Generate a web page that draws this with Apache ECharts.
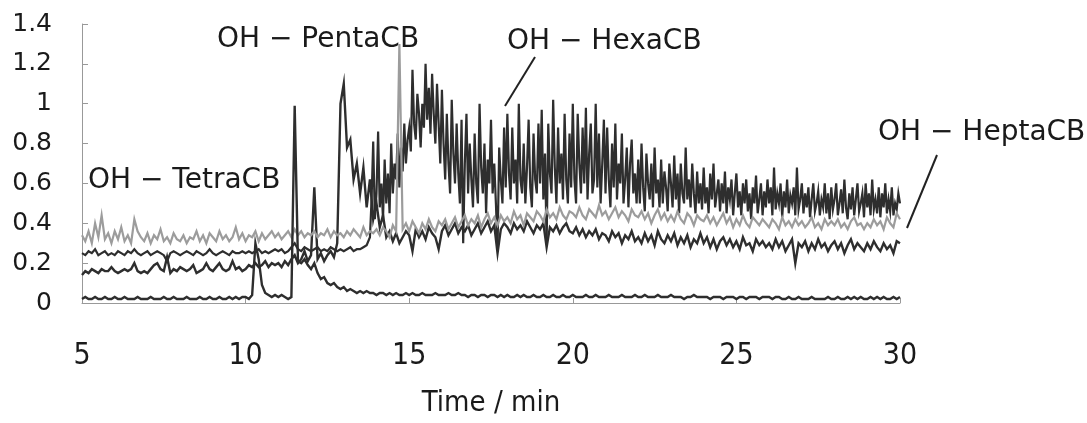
<html>
    <head>
        <meta charset="utf-8">
        <script src="https://cdn.jsdelivr.net/npm/echarts@6/dist/echarts.min.js"></script>
        <style>
            html, body { margin: 0; padding: 0; background: #fff; }
            #chart { width: 1087px; height: 423px; }
        </style>
    </head>
    <body>
        <div id="chart"></div>
        <script>
        // most traces: 5.0 .. 30.0 min, 0.1 min per sample
        var timeStart = 5;
        var timeStep = 0.1;
        // the busy part of the HexaCB trace is read at 0.05 min from 13.5 min
        var hexaLateStart = 13.5;
        var hexaLateStep = 0.05;
        var xTicks = [5, 10, 15, 20, 25, 30];

        var tetraCB = [
            0.02,0.03,0.02,0.02,0.03,0.02,0.02,0.03,0.02,0.02,
            0.03,0.02,0.02,0.03,0.02,0.02,0.02,0.03,0.02,0.02,
            0.02,0.03,0.02,0.02,0.02,0.03,0.02,0.02,0.03,0.02,
            0.02,0.02,0.03,0.02,0.02,0.02,0.03,0.02,0.02,0.03,
            0.02,0.02,0.03,0.02,0.02,0.03,0.02,0.03,0.02,0.03,
            0.03,0.02,0.04,0.3,0.22,0.09,0.05,0.04,0.03,0.04,
            0.03,0.04,0.03,0.02,0.03,0.99,0.21,0.2,0.22,0.19,
            0.17,0.2,0.15,0.12,0.13,0.1,0.09,0.1,0.08,0.07,
            0.08,0.06,0.07,0.06,0.05,0.06,0.05,0.06,0.05,0.05,
            0.04,0.05,0.05,0.04,0.05,0.04,0.05,0.04,0.04,0.05,
            0.04,0.05,0.04,0.04,0.05,0.04,0.04,0.04,0.05,0.04,
            0.04,0.04,0.05,0.04,0.04,0.05,0.04,0.04,0.03,0.04,
            0.04,0.03,0.04,0.04,0.03,0.04,0.04,0.03,0.04,0.03,
            0.04,0.03,0.03,0.04,0.03,0.04,0.03,0.03,0.04,0.03,
            0.03,0.04,0.03,0.03,0.04,0.03,0.03,0.04,0.03,0.03,
            0.04,0.03,0.03,0.03,0.04,0.03,0.03,0.04,0.03,0.03,
            0.03,0.04,0.03,0.03,0.03,0.04,0.03,0.03,0.03,0.04,
            0.03,0.03,0.04,0.03,0.03,0.03,0.04,0.03,0.03,0.03,
            0.04,0.03,0.03,0.03,0.02,0.03,0.03,0.04,0.03,0.03,
            0.03,0.03,0.02,0.03,0.03,0.03,0.02,0.03,0.03,0.03,
            0.02,0.03,0.03,0.02,0.03,0.03,0.03,0.02,0.03,0.03,
            0.03,0.02,0.03,0.03,0.02,0.02,0.03,0.02,0.02,0.03,
            0.02,0.02,0.02,0.03,0.02,0.02,0.02,0.02,0.03,0.02,
            0.02,0.03,0.02,0.02,0.03,0.02,0.03,0.02,0.03,0.02,
            0.02,0.03,0.02,0.03,0.02,0.03,0.02,0.02,0.03,0.02,
            0.03
        ];

        var pentaCB = [
            0.14,0.16,0.15,0.17,0.16,0.15,0.17,0.16,0.16,0.18,
            0.16,0.15,0.16,0.17,0.16,0.17,0.2,0.16,0.15,0.16,
            0.15,0.17,0.19,0.2,0.17,0.16,0.23,0.15,0.17,0.16,
            0.18,0.17,0.16,0.17,0.19,0.15,0.16,0.17,0.2,0.17,
            0.16,0.18,0.2,0.17,0.16,0.17,0.21,0.17,0.18,0.16,
            0.17,0.19,0.18,0.2,0.18,0.19,0.21,0.18,0.2,0.19,
            0.2,0.18,0.21,0.19,0.22,0.24,0.2,0.22,0.26,0.21,
            0.24,0.58,0.22,0.25,0.21,0.24,0.26,0.23,0.3,1.0,
            1.1,0.78,0.82,0.62,0.7,0.55,0.68,0.48,0.62,0.42,
            0.5,0.38,0.44,0.33,0.36,0.31,0.35,0.3,0.33,0.36,
            0.34,0.26,0.37,0.33,0.36,0.32,0.38,0.35,0.33,0.27,
            0.36,0.39,0.34,0.37,0.4,0.35,0.38,0.36,0.39,0.34,
            0.37,0.4,0.35,0.38,0.41,0.36,0.39,0.25,0.37,0.4,
            0.38,0.35,0.4,0.37,0.39,0.36,0.41,0.38,0.35,0.39,
            0.37,0.4,0.28,0.38,0.36,0.39,0.35,0.38,0.4,0.36,
            0.35,0.38,0.34,0.37,0.33,0.36,0.34,0.37,0.32,0.35,
            0.34,0.31,0.36,0.33,0.35,0.3,0.34,0.32,0.36,0.31,
            0.33,0.3,0.35,0.31,0.34,0.29,0.36,0.32,0.3,0.34,
            0.31,0.35,0.29,0.33,0.3,0.34,0.28,0.32,0.3,0.35,
            0.3,0.33,0.28,0.32,0.27,0.31,0.33,0.29,0.32,0.28,
            0.31,0.27,0.33,0.29,0.3,0.26,0.32,0.29,0.31,0.28,
            0.3,0.27,0.32,0.28,0.31,0.26,0.29,0.32,0.2,0.3,
            0.28,0.31,0.26,0.3,0.27,0.32,0.28,0.3,0.26,0.29,
            0.31,0.27,0.3,0.25,0.29,0.32,0.27,0.3,0.28,0.26,
            0.3,0.27,0.31,0.28,0.26,0.3,0.27,0.29,0.25,0.31,
            0.3
        ];

        // 5.0 .. 13.4 min, 0.1 min per sample
        var hexaCBBase = [
            0.25,0.24,0.26,0.25,0.27,0.24,0.25,0.26,0.24,0.25,
            0.24,0.26,0.25,0.24,0.26,0.25,0.27,0.25,0.24,0.25,
            0.26,0.24,0.25,0.26,0.25,0.24,0.21,0.25,0.26,0.25,
            0.24,0.25,0.26,0.25,0.24,0.26,0.25,0.24,0.25,0.27,
            0.25,0.24,0.25,0.26,0.25,0.24,0.26,0.25,0.25,0.26,
            0.25,0.26,0.25,0.26,0.27,0.25,0.26,0.25,0.26,0.27,
            0.26,0.27,0.25,0.26,0.28,0.3,0.27,0.26,0.28,0.27,
            0.26,0.27,0.28,0.26,0.27,0.26,0.28,0.27,0.26,0.27,
            0.26,0.27,0.28,0.26,0.27
        ];

        // 13.5 .. 30.0 min, 0.05 min per sample
        var hexaCBLate = [
            0.27,0.26,0.28,0.27,0.29,0.28,0.33,0.52,0.81,0.42,
            0.55,0.86,0.48,0.6,0.42,0.72,0.5,0.65,0.45,0.8,
            0.55,0.7,0.62,0.85,0.58,0.78,0.66,0.9,0.7,0.82,
            0.88,0.76,1.17,0.9,0.82,1.05,0.95,0.78,1.0,0.88,
            1.2,0.92,1.08,0.85,1.15,0.95,0.8,1.1,0.9,0.7,
            1.07,0.8,0.62,0.95,0.7,0.55,1.02,0.75,0.6,0.9,
            0.65,0.5,0.92,0.3,0.7,0.95,0.55,0.8,0.62,0.48,
            0.85,0.6,0.5,1.0,0.68,0.55,0.8,0.45,0.72,0.6,
            0.92,0.55,0.7,0.5,0.27,0.78,0.62,0.5,0.88,0.58,
            0.95,0.65,0.52,0.88,0.6,0.72,0.5,1.0,0.62,0.55,
            0.8,0.5,0.68,0.92,0.58,0.48,0.85,0.62,0.55,0.9,
            0.6,0.97,0.52,0.75,0.3,0.9,0.65,0.55,1.02,0.68,
            0.5,0.88,0.6,0.75,0.52,0.95,0.62,0.5,0.85,0.58,
            1.0,0.62,0.5,0.95,0.7,0.55,0.88,0.6,0.98,0.52,
            0.75,0.9,0.55,0.62,1.0,0.58,0.85,0.5,0.7,0.92,
            0.55,0.88,0.62,0.48,0.8,0.58,0.9,0.52,0.7,0.6,
            0.85,0.5,0.62,0.78,0.48,0.7,0.82,0.55,0.65,0.5,
            0.72,0.5,0.8,0.58,0.46,0.75,0.6,0.52,0.7,0.48,
            0.78,0.55,0.62,0.48,0.72,0.5,0.66,0.58,0.46,0.7,
            0.6,0.48,0.74,0.52,0.65,0.45,0.7,0.55,0.5,0.78,
            0.52,0.62,0.48,0.7,0.55,0.45,0.66,0.5,0.6,0.47,
            0.68,0.5,0.58,0.45,0.65,0.52,0.7,0.48,0.55,0.62,
            0.46,0.6,0.5,0.66,0.45,0.58,0.52,0.62,0.44,0.55,
            0.65,0.48,0.56,0.44,0.6,0.5,0.62,0.46,0.55,0.42,
            0.58,0.5,0.64,0.45,0.52,0.6,0.44,0.56,0.48,0.62,
            0.5,0.58,0.44,0.68,0.47,0.55,0.5,0.6,0.43,0.56,
            0.48,0.62,0.45,0.54,0.5,0.58,0.44,0.68,0.47,0.52,
            0.6,0.45,0.55,0.48,0.58,0.43,0.52,0.6,0.46,0.5,
            0.56,0.44,0.52,0.48,0.6,0.45,0.55,0.42,0.58,0.47,
            0.52,0.6,0.44,0.5,0.57,0.45,0.62,0.48,0.42,0.55,
            0.47,0.58,0.44,0.52,0.6,0.46,0.5,0.55,0.43,0.6,
            0.48,0.55,0.44,0.62,0.47,0.52,0.45,0.58,0.43,0.55,
            0.48,0.6,0.45,0.52,0.46,0.58,0.44,0.5,0.47,0.55,
            0.5
        ];

        var heptaCB = [
            0.34,0.31,0.36,0.3,0.4,0.33,0.44,0.32,0.35,0.3,
            0.36,0.32,0.38,0.31,0.34,0.3,0.42,0.36,0.33,0.31,
            0.35,0.3,0.34,0.32,0.37,0.31,0.33,0.3,0.35,0.32,
            0.31,0.34,0.3,0.33,0.32,0.36,0.31,0.34,0.3,0.35,
            0.33,0.31,0.36,0.32,0.34,0.31,0.33,0.38,0.32,0.35,
            0.31,0.34,0.33,0.36,0.31,0.35,0.32,0.34,0.36,0.33,
            0.35,0.32,0.34,0.36,0.33,0.37,0.34,0.36,0.33,0.35,
            0.34,0.36,0.33,0.35,0.34,0.37,0.33,0.36,0.34,0.35,
            0.33,0.36,0.34,0.37,0.35,0.33,0.38,0.34,0.36,0.35,
            0.37,0.34,0.38,0.36,0.33,0.39,0.36,1.3,0.37,0.4,
            0.36,0.41,0.38,0.35,0.4,0.37,0.42,0.38,0.36,0.41,
            0.39,0.42,0.37,0.4,0.43,0.38,0.41,0.44,0.39,0.42,
            0.4,0.44,0.38,0.42,0.45,0.4,0.43,0.39,0.44,0.41,
            0.43,0.4,0.46,0.42,0.44,0.39,0.45,0.43,0.41,0.46,
            0.44,0.41,0.47,0.43,0.45,0.42,0.48,0.44,0.42,0.46,
            0.45,0.43,0.48,0.44,0.42,0.47,0.45,0.43,0.49,0.44,
            0.46,0.42,0.45,0.48,0.43,0.46,0.44,0.41,0.47,0.44,
            0.43,0.46,0.42,0.45,0.4,0.44,0.47,0.42,0.45,0.41,
            0.44,0.41,0.46,0.42,0.4,0.45,0.43,0.39,0.44,0.42,
            0.41,0.44,0.4,0.43,0.39,0.42,0.45,0.4,0.43,0.38,
            0.42,0.39,0.44,0.4,0.38,0.43,0.41,0.39,0.42,0.4,
            0.38,0.42,0.4,0.37,0.43,0.39,0.41,0.38,0.42,0.39,
            0.41,0.38,0.4,0.43,0.38,0.4,0.37,0.42,0.39,0.41,
            0.39,0.42,0.38,0.4,0.37,0.41,0.43,0.39,0.4,0.37,
            0.4,0.38,0.42,0.39,0.41,0.37,0.43,0.4,0.38,0.45,
            0.42
        ];

        function toPairs(values, start, step) {
            return values.map(function (v, i) {
                return [+(start + i * step).toFixed(2), v];
            });
        }

        var wideFont = '"DejaVu Sans", sans-serif';
        var narrowFont = '"Liberation Sans Narrow", "DejaVu Sans Condensed", "Liberation Sans", sans-serif';

        function trace(name, data, color, width) {
            return {
                type: 'line',
                name: name,
                data: data,
                showSymbol: false,
                silent: true,
                animation: false,
                lineStyle: { color: color, width: width, join: 'miter' }
            };
        }

        var hexaData = toPairs(hexaCBBase, timeStart, timeStep)
            .concat(toPairs(hexaCBLate, hexaLateStart, hexaLateStep));

        var myChart = echarts.init(document.getElementById('chart'));

        var option = {
            animation: false,
            grid: { left: 82, right: 187, top: 24, bottom: 114 },
            xAxis: {
                type: 'value',
                min: 5,
                max: 30,
                interval: 5,
                name: 'Time / min',
                nameLocation: 'middle',
                nameGap: 86,
                nameTextStyle: { fontFamily: narrowFont, fontSize: 29, color: '#1a1a1a' },
                axisLine: { lineStyle: { color: '#999', width: 1 } },
                axisTick: { inside: true, length: 5, lineStyle: { color: '#999' } },
                splitLine: { show: false },
                axisLabel: {
                    margin: 38,
                    fontFamily: narrowFont,
                    fontSize: 30,
                    color: '#1a1a1a',
                    formatter: function (v) { return xTicks.indexOf(v) >= 0 ? String(v) : ''; }
                }
            },
            yAxis: {
                type: 'value',
                min: 0,
                max: 1.4,
                interval: 0.2,
                axisLine: { show: true, lineStyle: { color: '#999', width: 1 } },
                axisTick: { show: true, inside: true, length: 6, lineStyle: { color: '#999' } },
                splitLine: { show: false },
                axisLabel: {
                    margin: 30,
                    fontFamily: wideFont,
                    fontSize: 25,
                    color: '#1a1a1a',
                    formatter: function (v) { return String(+v.toFixed(1)); }
                }
            },
            series: [
                trace('OH - HexaCB', hexaData, '#2e2e2e', 2.2),
                trace('OH - PentaCB', toPairs(pentaCB, timeStart, timeStep), '#2e2e2e', 2.4),
                trace('OH - HeptaCB', toPairs(heptaCB, timeStart, timeStep), '#9c9c9c', 2.2),
                trace('OH - TetraCB', toPairs(tetraCB, timeStart, timeStep), '#2e2e2e', 2.4)
            ],
            graphic: [
                { type: 'text', x: 88, y: 181, style: { text: 'OH − TetraCB', font: '28px ' + wideFont, fill: '#1a1a1a', textVerticalAlign: 'middle' } },
                { type: 'text', x: 217, y: 40, style: { text: 'OH − PentaCB', font: '28px ' + wideFont, fill: '#1a1a1a', textVerticalAlign: 'middle' } },
                { type: 'text', x: 507, y: 42, style: { text: 'OH − HexaCB', font: '28px ' + wideFont, fill: '#1a1a1a', textVerticalAlign: 'middle' } },
                { type: 'text', x: 878, y: 133, style: { text: 'OH − HeptaCB', font: '28px ' + wideFont, fill: '#1a1a1a', textVerticalAlign: 'middle' } },
                { type: 'line', shape: { x1: 535, y1: 57, x2: 505, y2: 106 }, style: { stroke: '#222', lineWidth: 2 } },
                { type: 'line', shape: { x1: 937, y1: 155, x2: 907, y2: 228 }, style: { stroke: '#222', lineWidth: 2 } }
            ]
        };

        myChart.setOption(option);
        </script>
    </body>
</html>
